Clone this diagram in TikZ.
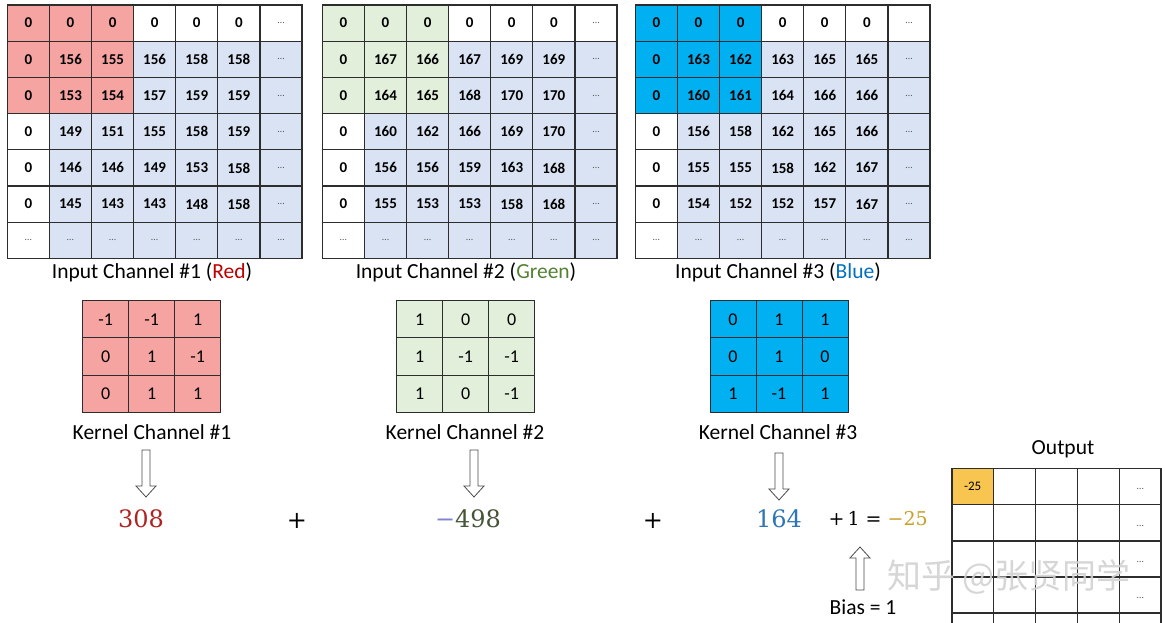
\documentclass[tikz,border=0pt]{standalone}
\usepackage{fontspec}
\setmainfont{Carlito}
\newfontfamily\numfont{DejaVu Serif}
\newfontfamily\cjkfont{Noto Sans CJK SC}
\usetikzlibrary{positioning}

\definecolor{linecol}{RGB}{45,45,45}
\definecolor{redcell}{RGB}{246,164,161}
\definecolor{greencell}{RGB}{226,239,218}
\definecolor{bluecell}{RGB}{0,176,240}
\definecolor{lightcell}{RGB}{218,227,243}
\definecolor{goldcell}{RGB}{248,198,80}
\definecolor{dotgray}{RGB}{90,90,90}
\definecolor{redword}{RGB}{192,0,0}
\definecolor{greenword}{RGB}{84,130,53}
\definecolor{blueword}{RGB}{0,112,192}
\definecolor{numred}{RGB}{175,35,35}
\definecolor{numgreen}{RGB}{70,85,55}
\definecolor{minusblue}{RGB}{130,130,210}
\definecolor{numblue}{RGB}{46,117,182}
\definecolor{numgold}{RGB}{200,160,40}
\newcommand{\gdots}{{\color{dotgray}\fontsize{10}{11}\selectfont\mdseries\ldots}}

\begin{document}
\begin{tikzpicture}[x=1pt,y=-1pt,
  every node/.style={font=\fontsize{21.5}{25}\selectfont},
  cell/.style={draw=linecol,line width=1.2pt,minimum width=42.1pt,minimum height=36.2pt,
    inner sep=0pt,font=\fontsize{15}{17}\selectfont\bfseries},
  kcell/.style={draw=linecol,line width=1pt,minimum width=46pt,minimum height=37.2pt,
    inner sep=0pt,font=\fontsize{18}{20}\selectfont},
  ocell/.style={draw=linecol,line width=1.6pt,minimum width=41.9pt,minimum height=36.2pt,
    inner sep=0pt,font=\fontsize{13}{15}\selectfont},
  bignum/.style={font=\fontsize{24}{28}\selectfont\numfont},
  hollow/.style={draw=linecol!85,line width=0.8pt,fill=white}]
  \useasboundingbox (0,0) rectangle (1165,623);
  \clip (0,0) rectangle (1165,623);
  \fill[white] (0,0) rectangle (1165,623);

  % input channel 1 (red)
  \foreach \rw [count=\r] in {{0,0,0,0,0,0,\gdots},{0,156,155,156,158,158,\gdots},
      {0,153,154,157,159,159,\gdots},{0,149,151,155,158,159,\gdots},
      {0,146,146,149,153,158,\gdots},{0,145,143,143,148,158,\gdots},
      {\gdots,\gdots,\gdots,\gdots,\gdots,\gdots,\gdots}} {
    \foreach \v [count=\c] in \rw {
      \def\cellcol{lightcell}
      \ifnum\r=1 \def\cellcol{white}\fi
      \ifnum\c=1 \def\cellcol{white}\fi
      \ifnum\r<4 \ifnum\c<4 \def\cellcol{redcell}\fi\fi
      \node[cell,fill=\cellcol] (ra-\r-\c) at ({7.3+(\c-0.5)*42.1},{5+(\r-0.5)*36.2}) {\v};
    }
  }
  % input channel 2 (green)
  \foreach \rw [count=\r] in {{0,0,0,0,0,0,\gdots},{0,167,166,167,169,169,\gdots},
      {0,164,165,168,170,170,\gdots},{0,160,162,166,169,170,\gdots},
      {0,156,156,159,163,168,\gdots},{0,155,153,153,158,168,\gdots},
      {\gdots,\gdots,\gdots,\gdots,\gdots,\gdots,\gdots}} {
    \foreach \v [count=\c] in \rw {
      \def\cellcol{lightcell}
      \ifnum\r=1 \def\cellcol{white}\fi
      \ifnum\c=1 \def\cellcol{white}\fi
      \ifnum\r<4 \ifnum\c<4 \def\cellcol{greencell}\fi\fi
      \node[cell,fill=\cellcol] (ga-\r-\c) at ({322.3+(\c-0.5)*42.1},{5+(\r-0.5)*36.2}) {\v};
    }
  }
  % input channel 3 (blue)
  \foreach \rw [count=\r] in {{0,0,0,0,0,0,\gdots},{0,163,162,163,165,165,\gdots},
      {0,160,161,164,166,166,\gdots},{0,156,158,162,165,166,\gdots},
      {0,155,155,158,162,167,\gdots},{0,154,152,152,157,167,\gdots},
      {\gdots,\gdots,\gdots,\gdots,\gdots,\gdots,\gdots}} {
    \foreach \v [count=\c] in \rw {
      \def\cellcol{lightcell}
      \ifnum\r=1 \def\cellcol{white}\fi
      \ifnum\c=1 \def\cellcol{white}\fi
      \ifnum\r<4 \ifnum\c<4 \def\cellcol{bluecell}\fi\fi
      \node[cell,fill=\cellcol] (ba-\r-\c) at ({635.3+(\c-0.5)*42.1},{5+(\r-0.5)*36.2}) {\v};
    }
  }
  \node (inr) at (152,272) {Input Channel \#1 (\textcolor{redword}{Red})};
  \node (ing) at (466,272) {Input Channel \#2 (\textcolor{greenword}{Green})};
  \node (inb) at (778,272) {Input Channel \#3 (\textcolor{blueword}{Blue})};

  % kernels
  \foreach \rw [count=\r] in {{-1,-1,1},{0,1,-1},{0,1,1}}
    \foreach \v [count=\c] in \rw
      \node[kcell,fill=redcell] (kr-\r-\c) at ({82.7+(\c-0.5)*46},{300.7+(\r-0.5)*37.2}) {\v};
  \foreach \rw [count=\r] in {{1,0,0},{1,-1,-1},{1,0,-1}}
    \foreach \v [count=\c] in \rw
      \node[kcell,fill=greencell] (kg-\r-\c) at ({396.7+(\c-0.5)*46},{300.7+(\r-0.5)*37.2}) {\v};
  \foreach \rw [count=\r] in {{0,1,1},{0,1,0},{1,-1,1}}
    \foreach \v [count=\c] in \rw
      \node[kcell,fill=bluecell] (kb-\r-\c) at ({710+(\c-0.5)*46},{300.7+(\r-0.5)*37.2}) {\v};
  \node (klr) at (152,432) {Kernel Channel \#1};
  \node (klg) at (465,432) {Kernel Channel \#2};
  \node (klb) at (778,432) {Kernel Channel \#3};

  % hollow arrows
  \foreach \ax/\ay in {146/450,474/450,779/453}
    \draw[hollow] ({\ax-4},\ay) -- ({\ax+4},\ay) -- ({\ax+4},{\ay+36}) -- ({\ax+10},{\ay+36})
      -- (\ax,{\ay+47}) -- ({\ax-10},{\ay+36}) -- ({\ax-4},{\ay+36}) -- cycle;
  \draw[hollow] (856,590) -- (864,590) -- (864,558) -- (870,558) -- (860,547) -- (850,558)
    -- (856,558) -- cycle;

  % sums
  \node[bignum,text=numred] (sr) at (141,519) {308};
  \node[bignum] (pr) at (297,521) {+};
  \node[bignum] (sg) at (468,519) {\textcolor{minusblue}{−}\textcolor{numgreen}{498}};
  \node[bignum] (pg) at (653,521) {+};
  \node[bignum,text=numblue] (sb) at (779,519) {164};
  \node[font=\fontsize{19}{22}\selectfont\numfont,anchor=west] (tot) at (825,519)
    {+\,1 = \textcolor{numgold}{−25}};
  \node (bias) at (863,607) {Bias = 1};

  % output
  \node (outl) at (1063,449) {Output};
  \foreach \r in {1,...,5}
    \foreach \c in {1,...,5}
      \node[ocell] (o-\r-\c) at ({951.7+(\c-0.5)*41.9},{468.3+(\r-0.5)*36.2}) {};
  \node[ocell,fill=goldcell] (o-1-1) at ({951.7+0.5*41.9},{468.3+0.5*36.2}) {-25};
  \foreach \r in {1,...,4}
    \node[inner sep=0pt] (od-\r) at ({951.7+4.5*41.9},{468.3+(\r-0.5)*36.2+3}) {\gdots};

  % watermark
  \node[text=gray!35,opacity=0.9,font=\cjkfont\fontsize{34}{36}\selectfont] (wm) at (1009,577)
    {知乎\ @张贤同学};
\end{tikzpicture}
\end{document}
